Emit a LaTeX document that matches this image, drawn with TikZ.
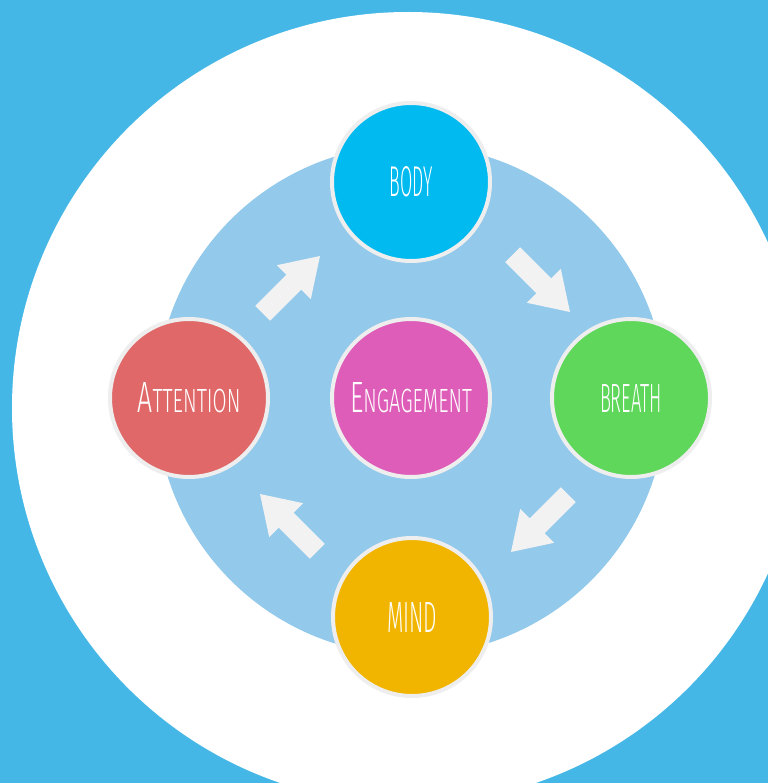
\documentclass[tikz,border=0pt]{standalone}
\usepackage{fontspec}
\IfFontExistsTF{Fira Sans Light}{\setmainfont{Fira Sans Light}}{\setmainfont{Fira Sans}}
\usepackage{graphicx}
\definecolor{bgblue}{HTML}{45B7E7}
\definecolor{innerblue}{HTML}{93C9EB}
\definecolor{ringgray}{HTML}{EEEEEE}
\definecolor{arrowc}{HTML}{F2F2F2}
\definecolor{bodyc}{HTML}{00BAF0}
\definecolor{breathc}{HTML}{5ED75A}
\definecolor{mindc}{HTML}{F1B500}
\definecolor{attc}{HTML}{E06868}
\definecolor{engc}{HTML}{DE5DB9}
\begin{document}
\begin{tikzpicture}[x=1pt,y=-1pt,
  stage/.style={circle, draw=ringgray, line width=4pt, minimum size=158pt, inner sep=0pt, text=white},
  blockarrow/.pic={\fill[arrowc] (-40,-10.5) -- (4,-10.5) -- (4,-24) -- (41,0) -- (4,24) -- (4,10.5) -- (-40,10.5) -- cycle;}
]
\fill[bgblue] (0,0) rectangle (768,783);
\useasboundingbox (0,0) rectangle (768,783);
\fill[white] (408,408) circle[radius=396];
\fill[innerblue] (411,400) circle[radius=255];

\pic[rotate=45] at (291,285) {blockarrow};
\pic[rotate=-45] at (541,283) {blockarrow};
\pic[rotate=-135] at (540,523) {blockarrow};
\pic[rotate=135] at (289,523) {blockarrow};

\node[stage, fill=bodyc] (body) at (411,182) {\resizebox{43pt}{30pt}{BODY}};
\node[stage, fill=breathc] (breath) at (631,398) {\resizebox{62pt}{28pt}{BREATH}};
\node[stage, fill=mindc] (mind) at (412,617) {\resizebox{50pt}{30pt}{MIND}};
\node[stage, fill=attc] (attention) at (189,398) {\resizebox{103pt}{30pt}{\fontsize{30}{30}\selectfont A\fontsize{23}{23}\selectfont TTENTION}};
\node[stage, fill=engc] (engagement) at (411,398) {\resizebox{122pt}{30pt}{\fontsize{30}{30}\selectfont E\fontsize{23}{23}\selectfont NGAGEMENT}};
\end{tikzpicture}
\end{document}
